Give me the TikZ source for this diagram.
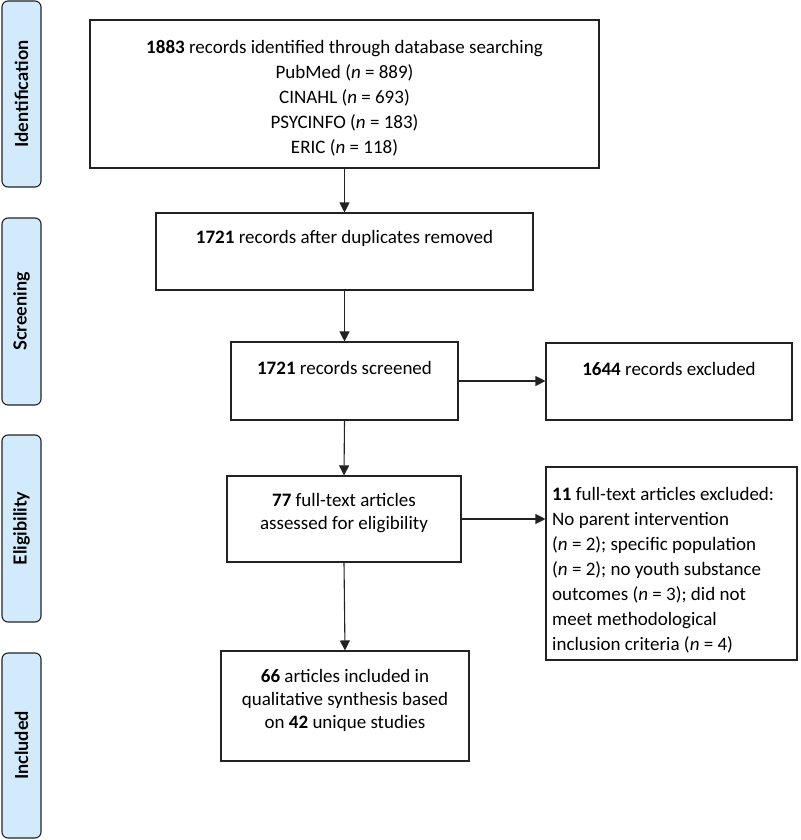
\documentclass[tikz,border=0pt]{standalone}
\usepackage{fontspec}
\setmainfont{Carlito}
\newfontfamily\sidefont{Lato}
\usetikzlibrary{arrows.meta}
\definecolor{sidefill}{HTML}{D1EBFC}
\definecolor{linecol}{HTML}{222222}
\begin{document}
\begin{tikzpicture}[x=1pt,y=-1pt,
  flowbox/.style={draw=linecol,line width=1.1pt,inner sep=0pt,fill=white},
  txt/.style={font=\fontsize{19}{25}\selectfont,align=center,inner sep=0pt},
  txtb/.style={font=\fontsize{19}{23}\selectfont,align=center,inner sep=0pt},
  txtl/.style={font=\fontsize{19}{25}\selectfont,align=left,inner sep=0pt},
  sidebox/.style={draw=linecol,line width=1.1pt,fill=sidefill,rounded corners=6pt,
    minimum width=39pt,inner sep=0pt},
  sidetxt/.style={rotate=90,font=\sidefont\bfseries\fontsize{18}{20}\selectfont,inner sep=0pt},
  arr/.style={draw=linecol,line width=1.1pt,-{Triangle[length=10pt,width=10pt]}}
]
\useasboundingbox (0,0) rectangle (800,840);

% side labels
\node[sidebox,minimum height=186pt] (sid) at (21.5,94) {};
\node[sidetxt] (sidt) at (sid.center) {Identification};
\node[sidebox,minimum height=187pt] (sscr) at (21.5,311.5) {};
\node[sidetxt] (sscrt) at (sscr.center) {Screening};
\node[sidebox,minimum height=187pt] (selig) at (21.5,528.5) {};
\node[sidetxt] (seligt) at (selig.center) {Eligibility};
\node[sidebox,minimum height=185pt] (sinc) at (21.5,745.5) {};
\node[sidetxt] (sinct) at (sinc.center) {Included};

% main boxes
\node[flowbox,minimum width=509pt,minimum height=148pt] (b1) at (344.5,94) {};
\node[txt] (b1t) at (344.5,98) {\textbf{1883} records identified through database searching\\
PubMed (\textit{n} = 889)\\ CINAHL (\textit{n} = 693)\\ PSYCINFO (\textit{n} = 183)\\ ERIC (\textit{n} = 118)};

\node[flowbox,minimum width=377pt,minimum height=77pt] (b2) at (344.5,251.5) {};
\node[txt] (b2t) at (344.5,238) {\textbf{1721} records after duplicates removed};

\node[flowbox,minimum width=227pt,minimum height=78pt] (b3) at (344.5,381) {};
\node[txt] (b3t) at (344.5,368) {\textbf{1721} records screened};

\node[flowbox,minimum width=246pt,minimum height=77pt] (e1) at (669,381.5) {};
\node[txt] (e1t) at (669,369) {\textbf{1644} records excluded};

\node[flowbox,minimum width=234pt,minimum height=86pt] (b4) at (344,519) {};
\node[txtb] (b4t) at (344,513.5) {\textbf{77} full-text articles\\ assessed for eligibility};

\node[flowbox,minimum width=251pt,minimum height=193pt] (e2) at (671.5,563.5) {};
\node[txtl,anchor=west] (e2t) at (552,570) {\textbf{11} full-text articles excluded:\\
No parent intervention\\ (\textit{n} = 2); specific population\\
(\textit{n} = 2); no youth substance\\ outcomes (\textit{n} = 3); did not\\
meet methodological\\ inclusion criteria (\textit{n} = 4)};

\node[flowbox,minimum width=248pt,minimum height=110pt] (b5) at (345,706) {};
\node[txtb] (b5t) at (345,700) {\textbf{66} articles included in\\ qualitative synthesis based\\ on \textbf{42} unique studies};

% connectors
\draw[arr] (b1.south) -- (b2.north);
\draw[arr] (b2.south) -- (b3.north);
\draw[arr] (b3.south) -- (b4.north);
\draw[arr] (b4.south) -- (b5.north);
\draw[arr] (b3.east) -- (b3.east -| e1.west);
\draw[arr] (b4.east) -- (b4.east -| e2.west);
\end{tikzpicture}
\end{document}
